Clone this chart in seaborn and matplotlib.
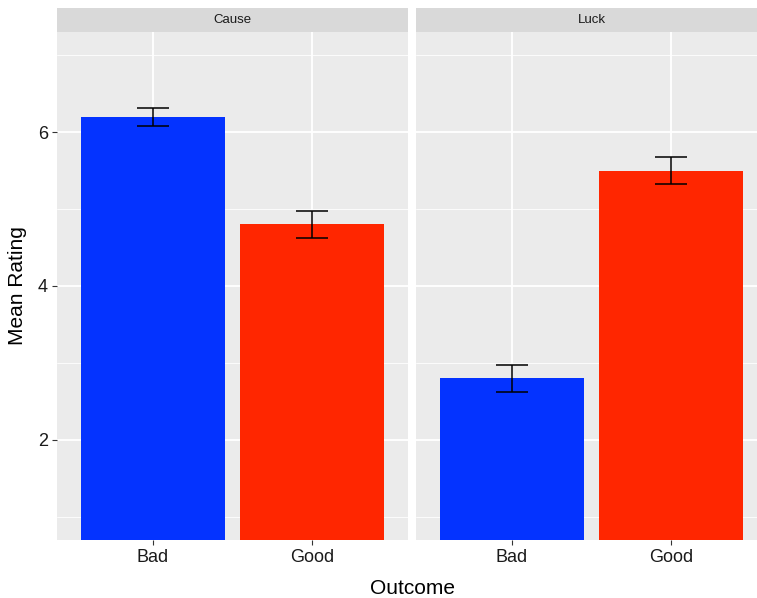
import matplotlib
matplotlib.use("Agg")
import matplotlib.pyplot as plt
from matplotlib.patches import Rectangle
import seaborn as sns
import pandas as pd

# Data
conditions = ["Cause", "Luck"]
outcomes = ["Bad", "Good"]
cause_means = [6.20, 4.80]
luck_means = [2.80, 5.50]
cause_se = [0.115, 0.18]
luck_se = [0.18, 0.175]
y_ticks = [2, 4, 6]
y_minor = [1, 3, 5, 7]

palette = {"Bad": "#0433FF", "Good": "#FF2600"}

df = pd.DataFrame({
    "Condition": ["Cause"] * 2 + ["Luck"] * 2,
    "Outcome": outcomes * 2,
    "Rating": cause_means + luck_means,
    "SE": cause_se + luck_se,
})

sns.set_theme(style="darkgrid")
plt.rcParams["font.family"] = ["Liberation Sans", "DejaVu Sans"]

W, H = 757, 598
fig = plt.figure(figsize=(W / 100, H / 100), dpi=100)

panel_w = 351 / W
panel_h = (540 - 32) / H
bottom = 1 - 540 / H
lefts = [57 / W, 416 / W]

for i, cond in enumerate(conditions):
    ax = fig.add_axes([lefts[i], bottom, panel_w, panel_h])
    sub = df[df["Condition"] == cond]
    sns.barplot(data=sub, x="Outcome", y="Rating", hue="Outcome",
                order=outcomes, hue_order=outcomes, palette=palette,
                width=0.9, errorbar=None, legend=False, linewidth=0,
                saturation=1, ax=ax)
    ax.errorbar(range(len(outcomes)), sub["Rating"], yerr=sub["SE"],
                fmt="none", ecolor="black", elinewidth=1.1,
                capsize=11.5, capthick=1.1, zorder=5)

    ax.set_facecolor("#EBEBEB")
    ax.set_xlim(-0.6, 1.6)
    ax.set_ylim(0.7, 7.3)
    ax.set_yticks(y_ticks)
    ax.set_yticks(y_minor, minor=True)
    ax.grid(which="major", color="white", linewidth=1.3)
    ax.grid(which="minor", axis="y", color="white", linewidth=0.6)
    ax.set_axisbelow(True)
    for s in ax.spines.values():
        s.set_visible(False)
    ax.set_xlabel("")
    ax.set_ylabel("")
    ax.tick_params(axis="both", which="major", length=3.5, width=0.8,
                   color="#333333", labelsize=13, labelcolor="#1A1A1A",
                   pad=3, bottom=True, left=(i == 0))
    ax.tick_params(axis="y", which="minor", length=0)
    if i > 0:
        ax.set_yticklabels([])

    # facet strip
    strip_h = 24 / (540 - 32)
    ax.add_patch(Rectangle((0, 1), 1, strip_h, transform=ax.transAxes,
                           facecolor="#D9D9D9", edgecolor="none",
                           clip_on=False))
    ax.text(0.5, 1 + strip_h / 2, cond, transform=ax.transAxes,
            ha="center", va="center", fontsize=9.5, color="#1A1A1A")

fig.text(412 / W, 1 - 589 / H, "Outcome", ha="center", va="center",
         fontsize=15, color="black")
fig.text(18 / W, 1 - 286 / H, "Mean Rating", ha="center", va="center",
         rotation=90, fontsize=15, color="black")

fig.savefig("out.png", dpi=100, facecolor="white")
